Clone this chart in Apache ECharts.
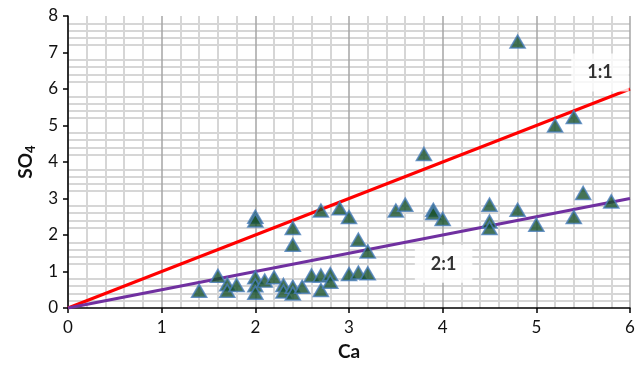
<!DOCTYPE html>
<html>
<head>
<meta charset="utf-8">
<script src="https://cdn.jsdelivr.net/npm/echarts@6/dist/echarts.min.js"></script>
<style>
  html, body { margin: 0; padding: 0; background: #fff; }
  #chart { width: 640px; height: 370px; }
</style>
</head>
<body>
<div id="chart"></div>
<script>
// Ca and SO4 measurements (one entry per sample)
const caValues = [
  4.8, 5.2, 5.4, 3.8, 2.0, 2.0, 2.4, 2.4, 2.7, 2.9,
  3.0, 3.1, 3.2, 3.5, 3.6, 3.9, 3.9, 4.0, 4.5, 4.5,
  4.5, 4.8, 5.0, 5.4, 5.5, 5.8, 1.4, 1.6, 1.7, 1.7,
  1.8, 2.0, 2.0, 2.0, 2.1, 2.2, 2.3, 2.3, 2.4, 2.4,
  2.5, 2.6, 2.7, 2.7, 2.8, 2.8, 3.0, 3.1, 3.2
];
const so4Values = [
  7.3, 5.0, 5.23, 4.22, 2.5, 2.4, 2.19, 1.73, 2.67, 2.73,
  2.49, 1.87, 1.55, 2.67, 2.83, 2.69, 2.6, 2.44, 2.83, 2.37,
  2.19, 2.69, 2.28, 2.49, 3.15, 2.92, 0.47, 0.88, 0.65, 0.47,
  0.63, 0.84, 0.62, 0.42, 0.75, 0.84, 0.63, 0.45, 0.58, 0.4,
  0.58, 0.89, 0.89, 0.49, 0.93, 0.72, 0.93, 0.97, 0.95
];

// Reference ratio lines (SO4 = Ca and SO4 = Ca / 2)
const lineOneToOne = [[0, 0], [6, 6]];
const lineTwoToOne = [[0, 0], [6, 3]];

// Ratio captions and where they sit in data space
const ratioLabelText = ['1:1', '2:1'];
const ratioLabelPos = [[5.68, 6.45], [4.01, 1.21]];

const xTicks = [0, 1, 2, 3, 4, 5, 6];
const yTicks = [0, 1, 2, 3, 4, 5, 6, 7, 8];

const samples = caValues.map((c, i) => [c, so4Values[i]]);
const ratioLabels = ratioLabelPos.map((p, i) => ({ value: p, name: ratioLabelText[i] }));

const FONT = 'Lato';

const chart = echarts.init(document.getElementById('chart'), null, { renderer: 'canvas' });
chart.setOption({
  animation: false,
  backgroundColor: '#ffffff',
  grid: { left: 68, right: 10, top: 16, bottom: 62, containLabel: false },
  xAxis: {
    type: 'value',
    min: xTicks[0],
    max: xTicks[xTicks.length - 1],
    interval: 1,
    name: 'Ca',
    nameLocation: 'middle',
    nameGap: 34,
    nameTextStyle: { fontFamily: FONT, fontWeight: 'bold', fontSize: 19, color: '#111' },
    axisLine: { show: true, onZero: false, lineStyle: { color: '#000', width: 1.5 } },
    axisTick: { show: true, inside: false, length: 5, lineStyle: { color: '#000', width: 1.5 } },
    axisLabel: { fontFamily: FONT, fontSize: 17, color: '#111', margin: 11 },
    splitLine: { show: true, lineStyle: { color: '#a6a6a6', width: 1.5 } },
    minorTick: { show: false, splitNumber: 5 },
    minorSplitLine: { show: true, lineStyle: { color: '#d6d6d6', width: 2 } }
  },
  yAxis: {
    type: 'value',
    min: yTicks[0],
    max: yTicks[yTicks.length - 1],
    interval: 1,
    name: 'SO{sub|4}',
    nameLocation: 'middle',
    nameRotate: 90,
    nameGap: 30,
    nameTextStyle: {
      fontFamily: FONT, fontWeight: 'bold', fontSize: 19, color: '#111',
      rich: { sub: { fontFamily: FONT, fontWeight: 'bold', fontSize: 13, color: '#111', verticalAlign: 'bottom', padding: [9, 0, 0, 0] } }
    },
    axisLine: { show: true, onZero: false, lineStyle: { color: '#000', width: 1.5 } },
    axisTick: { show: true, inside: false, length: 5, lineStyle: { color: '#000', width: 1.5 } },
    axisLabel: { fontFamily: FONT, fontSize: 17, color: '#111', margin: 10 },
    splitLine: { show: false },
    minorTick: { show: false, splitNumber: 5 },
    minorSplitLine: { show: true, lineStyle: { color: '#d6d6d6', width: 2 } }
  },
  series: [
    {
      name: '1:1',
      type: 'line',
      data: lineOneToOne,
      symbol: 'none',
      lineStyle: { color: '#ff0000', width: 3 },
      z: 3
    },
    {
      name: '2:1',
      type: 'line',
      data: lineTwoToOne,
      symbol: 'none',
      lineStyle: { color: '#7030a0', width: 3 },
      z: 3
    },
    {
      name: 'samples',
      type: 'scatter',
      data: samples,
      symbol: 'triangle',
      symbolSize: [15, 13],
      itemStyle: { color: '#17502a', borderColor: '#4a7ebb', borderWidth: 1.6 },
      z: 4
    },
    {
      name: 'ratio labels',
      type: 'scatter',
      data: ratioLabels,
      symbolSize: 0,
      silent: true,
      z: 5,
      label: {
        show: true,
        position: 'inside',
        formatter: p => p.name,
        fontFamily: FONT,
        fontWeight: 'bold',
        fontSize: 18,
        color: '#000',
        backgroundColor: '#ffffff',
        padding: [10, 16, 10, 16]
      }
    }
  ]
});
</script>
</body>
</html>
